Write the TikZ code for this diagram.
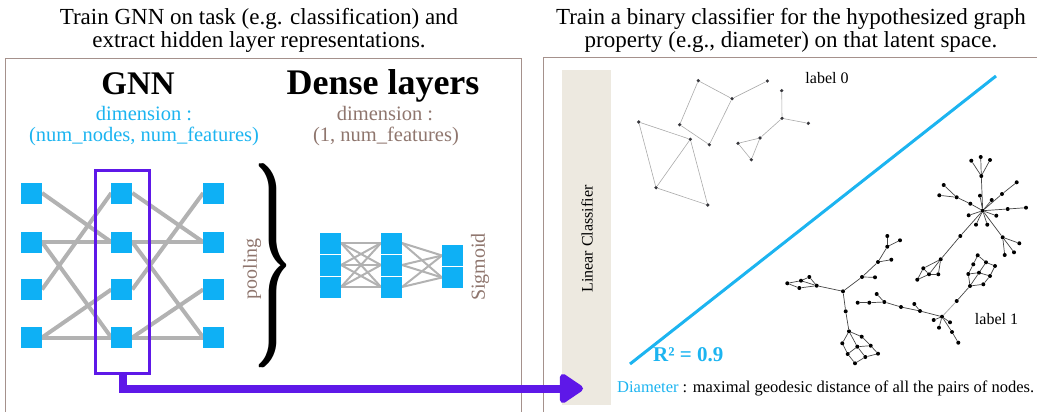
\documentclass[tikz,border=0pt]{standalone}
\usepackage{fontspec}
\setmainfont{Liberation Serif}
\usetikzlibrary{arrows.meta}
\pgfdeclarelayer{background}
\pgfsetlayers{background,main}
\newcommand{\fsz}[1]{\fontsize{#1}{#1}\selectfont}
\newcommand{\heavybrace}{\rlap{$\Bigg\}$}\kern0.22pt\rlap{$\Bigg\}$}\kern0.22pt$\Bigg\}$}
\definecolor{cyanc}{RGB}{14,176,245}
\definecolor{txtcyan}{RGB}{28,180,240}
\definecolor{purp}{RGB}{94,24,232}
\definecolor{edgegray}{RGB}{178,178,178}
\definecolor{brownt}{RGB}{143,118,110}
\definecolor{panelc}{RGB}{165,145,140}
\definecolor{beige}{RGB}{237,233,224}
\definecolor{lightedge}{RGB}{170,170,170}
\definecolor{darkedge}{RGB}{70,70,70}
\definecolor{dotzero}{RGB}{55,55,60}
\tikzset{
  sq/.style={fill=cyanc, minimum size=21pt, inner sep=0pt, outer sep=0pt},
  gedge/.style={draw=edgegray, line width=4pt},
  dedge/.style={draw=edgegray, line width=2pt},
  dotA/.style={circle, fill=dotzero, inner sep=0pt, minimum size=3.6pt},
  dotB/.style={circle, fill=black, inner sep=0pt, minimum size=4pt},
  ezero/.style={draw=lightedge, line width=0.6pt},
  eone/.style={draw=darkedge, line width=0.7pt},
  txt/.style={inner sep=0pt, anchor=base},
  panel/.style={draw=panelc, line width=1pt},
}
\begin{document}
\begin{tikzpicture}
\begin{scope}[x=1pt,y=-1pt]
\useasboundingbox (0,0) rectangle (1037,412);
% titles
\node[txt] (t1a) at (259,25) {\fsz{23}Train GNN on task (e.g. classification) and};
\node[txt] (t1b) at (259,47.7) {\fsz{23}extract hidden layer representations.};
\node[txt] (t2a) at (791,25) {\fsz{23}Train a binary classifier for the hypothesized graph};
\node[txt] (t2b) at (791,47.7) {\fsz{23}property (e.g., diameter) on that latent space.};
% panels
\draw[panel] (5,412) -- (5,59) -- (521.7,59) -- (521.7,412);
\draw[panel] (543.3,412) -- (543.3,58) -- (1037,58);
% headings
\node[txt] (gnn) at (138,95) {\fsz{33}\bfseries GNN};
\node[txt] (dense) at (383,95) {\fsz{36}\bfseries Dense layers};
\node[txt, text=txtcyan] (gd1) at (144,121) {\fsz{20.5}dimension :};
\node[txt, text=txtcyan] (gd2) at (144,141.7) {\fsz{20.5}(num\_nodes, num\_features)};
\node[txt, text=brownt] (dd1) at (385,121) {\fsz{20.5}dimension :};
\node[txt, text=brownt] (dd2) at (386,141.7) {\fsz{20.5}(1, num\_features)};
% GNN squares
\foreach \c/\x in {1/31.5,2/121.8,3/213.7}{
  \foreach \r/\y in {1/193,2/242,3/289.5,4/337.5}{
    \node[sq] (g\c\r) at (\x,\y) {};
  }
}
\begin{pgfonlayer}{background}
\foreach \a/\b in {1/2,2/3}{
  \draw[gedge] (g\a1.east) -- (g\b2.west);
  \draw[gedge] (g\a2.east) -- (g\b2.west);
  \draw[gedge] (g\a2.east) -- (g\b4.west);
  \draw[gedge] (g\a3.east) -- (g\b1.west);
  \draw[gedge] (g\a4.east) -- (g\b3.west);
  \draw[gedge] (g\a4.east) -- (g\b4.west);
}
\end{pgfonlayer}
% purple box
\node[draw=purp, line width=3pt, minimum width=53.5pt, minimum height=203pt, inner sep=0pt] (gnnbox) at (122.5,271.8) {};
\coordinate (arrowtip) at (583,388.5);
% brace and pooling
\node[inner sep=0pt] (brace) at (273,266) {\resizebox*{40pt}{204pt}{\heavybrace}};
\node[rotate=90, text=brownt, inner sep=0pt] (pool) at (252,269) {\fsz{20}pooling};
% dense layers
\foreach \r/\y in {1/243,2/265,3/287}{
  \node[sq] (da\r) at (330.5,\y) {};
  \node[sq] (db\r) at (391.5,\y) {};
}
\node[sq] (dc1) at (452.5,255.5) {};
\node[sq] (dc2) at (452.5,277.5) {};
\begin{pgfonlayer}{background}
\foreach \i in {1,2,3}{
  \foreach \j in {1,2,3}{ \draw[dedge] (da\i.east) -- (db\j.west); }
  \foreach \j in {1,2}{ \draw[dedge] (db\i.east) -- (dc\j.west); }
}
\end{pgfonlayer}
\node[rotate=90, text=brownt, inner sep=0pt] (sigm) at (480,267) {\fsz{20}Sigmoid};
% right panel
\fill[beige] (562,70) rectangle (611,405);
\node[rotate=90, inner sep=0pt] (lincl) at (587,239) {\fsz{16}Linear Classifier};
\coordinate (bl0) at (630,364);
\coordinate (bl1) at (996,76);
\draw[draw=txtcyan, line width=3pt] (bl0) -- (bl1);
\node[txt, anchor=base west, text=txtcyan] (rsq) at (653,361.7) {\fsz{21}\bfseries R² = 0.9};
\node[txt, anchor=base west] (diam) at (617,392.7) {\fsz{16.5}\textcolor{txtcyan}{Diameter} : maximal geodesic distance of all the pairs of nodes.};
\node[txt] (lab0) at (827,83.3) {\fsz{16}label 0};
\node[txt] (lab1) at (996.5,324) {\fsz{16}label 1};
% label 0 graphs
\foreach \n/\x/\y in {a1/698.3/80.7, a2/732/98.7, a3/767.3/81, a4/679.7/124.7, a5/709.3/144.7, a6/638.7/122, a7/690.3/139.3, a8/656/187.7, a9/707.7/205,
  b1/781.7/90.7, b2/782/118.3, b6/808.3/123.3, b3/760/138, b4/738/143.3, b5/751.3/159.7}
  \node[dotA] (\n) at (\x,\y) {};
\foreach \u/\v in {a1/a2, a2/a3, a1/a4, a4/a5, a5/a2, a6/a7, a6/a8, a7/a8, a7/a9, a8/a9,
  b1/b2, b2/b6, b2/b3, b3/b4, b3/b5, b4/b5}
  \draw[ezero] (\u) -- (\v);
% label 1 graphs
\foreach \n/\x/\y in {c0/982.7/210.7, c1/981.3/176, c1a/971.3/160.7, c1b/980.7/157, c1c/990/160, c2/980/195.7, c3/991.7/200,
  c4/1002/194, c4a/1016.7/182.3, c5/1007.7/209, c5a/1026/207.7, c6/996.3/215.7, c7/987.3/224.7, c8/976/224.7, c9/968.7/215.3,
  c10/970.3/203.7, c11/956.7/197.3, c11a/943.7/185, c11b/939.3/195.3, c12/1002.7/237.3, c12a/1019.3/243.3, c12b/1014/252.3, c12c/1004.7/255,
  c13/960.3/236, c14/940.7/259.3, c14a/923.3/268.3, c14b/929/274.3, c14c/938.3/274.3, c14d/917.3/279.7,
  d1/887.3/236, d2/900/240.3, d3/887.3/246.7, d4/878/262, d5/891.3/259.7, d6/862/277, d7/875/277.3, d8/843/291.3,
  d9/816.7/285.7, d10/809.3/277, d11/801/280.7, d12/787.3/283.3, d13/799.3/288,
  d14/845.7/311.3, d15/849/331.3, d16/861.7/336.7, d17/842.3/343.3, d18/857.3/346.7, d19/870.7/345.7, d20/847.7/354, d21/865.3/357, d22/878/353.7, d23/855/363.3,
  e0/942/316.7, e1/920/311, e2/901/307, e3/884.3/302, e4/869.3/302.7, e5/857.7/302.7, e3a/876.7/294, e1a/914.3/304,
  e6/933.7/320, e7/939/327.7, e8/950/322.3, e9/952/332, e10/958.3/342.7,
  e11/956.7/301, e12/970/286, e13/983.3/284.3, e14/968.3/274, e15/979/272.7, e16/990/276, e17/973.3/264.3, e18/986/262.3, e19/995/266, e20/977.7/255.3}
  \node[dotB] (\n) at (\x,\y) {};
\foreach \u/\v in {c0/c1, c1/c1a, c1/c1b, c1/c1c, c0/c2, c0/c3, c0/c4, c4/c4a, c0/c5, c5/c5a, c0/c6, c0/c7, c0/c8, c0/c9,
  c0/c10, c10/c11, c11/c11a, c11/c11b, c0/c12, c12/c12a, c12/c12b, c12/c12c, c0/c13, c13/c14, c14/c14a, c14/c14b, c14/c14c,
  c14a/c14d, c14d/c14b, c14b/c14c, c14a/c14b,
  d1/d3, d2/d3, d3/d4, d4/d5, d4/d6, d6/d7, d6/d8, d8/d9, d9/d10, d9/d11, d9/d13, d12/d11, d12/d13, d11/d10,
  d8/d14, d14/d15, d15/d16, d15/d17, d15/d18, d16/d19, d18/d19, d17/d20, d18/d20, d18/d21, d19/d22, d21/d22, d20/d23, d23/d21,
  e0/e1, e1/e2, e2/e3, e3/e4, e4/e5, e3/e3a, e1/e1a, e0/e6, e0/e7, e0/e8, e0/e9, e9/e10,
  e11/e12, e12/e13, e12/e14, e12/e15, e13/e16, e14/e17, e15/e16, e15/e18, e16/e19, e17/e20, e20/e18, e18/e19, e14/e15}
  \draw[eone] (\u) -- (\v);
\draw[draw=lightedge, line width=0.8pt] (e0) -- (e11);
\end{scope}
% arrow drawn in an unflipped frame
\draw[draw=purp, line width=8pt, -{Triangle[length=26pt,width=33pt,round]}] (gnnbox.south) |- (arrowtip);
\end{tikzpicture}
\end{document}
